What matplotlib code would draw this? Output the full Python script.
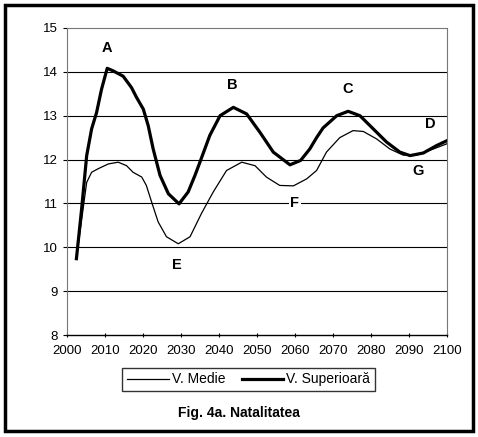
import matplotlib

matplotlib.use("Agg")
import matplotlib.pyplot as plt
from matplotlib.patches import Rectangle

plt.rcParams["font.family"] = ["Liberation Sans", "DejaVu Sans"]

# V. Superioara (thick line)
years_sup = [2002.5, 2003.9, 2005.2, 2006.5, 2007.8, 2009.1, 2010.6, 2012.2, 2014.8,
             2017.0, 2018.3, 2020.1, 2021.4, 2022.7, 2024.5, 2026.7, 2029.5, 2031.9,
             2033.7, 2035.0, 2037.6, 2040.3, 2043.8, 2047.3, 2050.8, 2054.3, 2058.7,
             2061.5, 2063.9, 2065.7, 2067.4, 2071.0, 2074.0, 2077.1, 2080.6, 2084.1,
             2087.6, 2090.3, 2093.8, 2097.3, 2100.0]
vals_sup = [9.74, 10.9, 12.09, 12.7, 13.07, 13.6, 14.08, 14.02, 13.9,
            13.64, 13.42, 13.15, 12.77, 12.24, 11.64, 11.22, 10.99, 11.26,
            11.64, 11.94, 12.55, 13.0, 13.19, 13.04, 12.62, 12.17, 11.88,
            11.98, 12.24, 12.5, 12.72, 13.0, 13.1, 13.0, 12.7, 12.4,
            12.17, 12.09, 12.15, 12.32, 12.43]

# V. Medie (thin line)
years_med = [2002.5, 2005.2, 2006.5, 2008.2, 2010.9, 2013.5, 2015.7, 2017.4, 2019.7,
             2020.9, 2022.3, 2024.0, 2026.2, 2029.3, 2032.4, 2035.4, 2038.5, 2042.0,
             2046.0, 2049.5, 2052.5, 2056.0, 2059.6, 2063.1, 2065.7, 2068.3, 2071.8,
             2075.3, 2078.0, 2081.5, 2085.0, 2088.5, 2092.0, 2096.4, 2100.0]
vals_med = [9.74, 11.48, 11.71, 11.79, 11.9, 11.94, 11.86, 11.71, 11.6,
            11.41, 11.03, 10.58, 10.24, 10.08, 10.24, 10.77, 11.26, 11.75,
            11.94, 11.86, 11.6, 11.41, 11.4, 11.56, 11.75, 12.17, 12.5,
            12.66, 12.64, 12.47, 12.24, 12.1, 12.1, 12.24, 12.36]

# point labels
label_text = ["A", "B", "C", "D", "E", "F", "G"]
label_x = [2010.5, 2043.4, 2074, 2095.5, 2029, 2060, 2092.4]
label_y = [14.55, 13.7, 13.6, 12.8, 9.6, 11.0, 11.75]

x_ticks = list(range(2000, 2101, 10))
y_ticks = list(range(8, 16))

fig = plt.figure(figsize=(4.78, 4.37), dpi=100)
ax = fig.add_axes([0.140, 0.2334, 0.795, 0.7026])

for v in y_ticks[1:-1]:
    ax.axhline(v, color="black", lw=0.8, zorder=1)

ax.plot(years_med, vals_med, color="black", lw=0.9, label="V. Medie", zorder=3,
        solid_joinstyle="round")
ax.plot(years_sup, vals_sup, color="black", lw=2.3, label="V. Superioară", zorder=4,
        solid_joinstyle="round")

for t, x, y in zip(label_text, label_x, label_y):
    bg = dict(facecolor="white", edgecolor="none", pad=1) if t == "F" else None
    ax.text(x, y, t, ha="center", va="center", fontsize=10.5, fontweight="bold",
            bbox=bg, zorder=5)

ax.set_xlim(2000, 2100)
ax.set_ylim(8, 15)
ax.set_xticks(x_ticks)
ax.set_yticks(y_ticks)
ax.tick_params(axis="both", labelsize=9.5, length=3, width=0.8, color="black")
ax.tick_params(axis="x", direction="inout", pad=6)
ax.tick_params(axis="y", direction="out")
for side in ["left", "right", "top"]:
    ax.spines[side].set_color("#777777")
    ax.spines[side].set_linewidth(0.8)
ax.spines["top"].set_linestyle((0, (2, 1)))
ax.spines["right"].set_linestyle((0, (2, 1)))
ax.spines["bottom"].set_linewidth(1.0)

fig.legend(loc="center", bbox_to_anchor=(0.52, 0.1316), ncol=2, frameon=True,
           fancybox=False, edgecolor="black", fontsize=10, handlelength=3,
           handletextpad=0.2, columnspacing=1.2, borderpad=0.35)

fig.text(0.5, 0.055, "Fig. 4a. Natalitatea", ha="center", va="center",
         fontsize=10, fontweight="bold")

fig.patches.append(Rectangle((5 / 478, 6 / 437), 468 / 478, 426 / 437,
                             transform=fig.transFigure, fill=False,
                             edgecolor="black", lw=2.5))

fig.savefig("out.png", dpi=100)
